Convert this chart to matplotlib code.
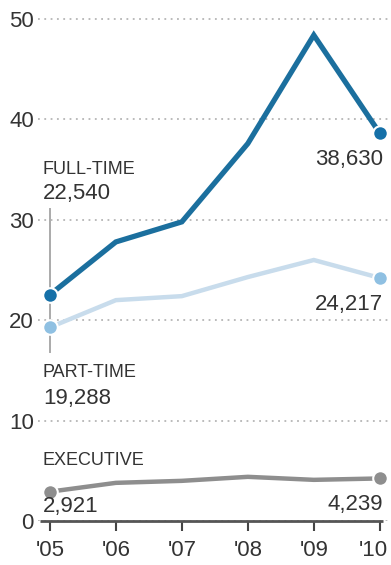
import matplotlib
matplotlib.use("Agg")
import matplotlib.pyplot as plt
from matplotlib.transforms import ScaledTranslation

plt.rcParams['font.family'] = ['Liberation Sans', 'DejaVu Sans']

# Employment counts, in thousands
years = ["'05", "'06", "'07", "'08", "'09", "'10"]
full_time = [22.540, 27.8, 29.8, 37.6, 48.4, 38.630]
part_time = [19.288, 22.0, 22.4, 24.3, 26.0, 24.217]
executive = [2.921, 3.8, 4.0, 4.4, 4.1, 4.239]

names = ['FULL-TIME', 'PART-TIME', 'EXECUTIVE']
start_labels = ['22,540', '19,288', '2,921']
end_labels = ['38,630', '24,217', '4,239']

line_colors = ['#1b6f9e', '#c8dcec', '#8e8e8e']
dot_colors = ['#1570a8', '#8fc0e2', '#8e8e8e']
line_widths = [3.8, 3.2, 3.2]

text_col = '#333333'

fig = plt.figure(figsize=(3.91, 5.65), dpi=100)
ax = fig.add_axes([38 / 391, 44 / 565, 353 / 391, 521 / 565])

x = list(range(len(years)))
series = [full_time, part_time, executive]

# connector from the full-time label down past the part-time dot
ax.plot([0, 0], [31.1, 16.8], color='#aaaaaa', lw=1.4, zorder=1)

for vals, lc, dc, lw in zip(series, line_colors, dot_colors, line_widths):
    ax.plot(x, vals, color=lc, lw=lw, solid_capstyle='butt',
            solid_joinstyle='miter', zorder=2)
    ax.plot([x[0], x[-1]], [vals[0], vals[-1]], 'o', color=dc, ms=10.5,
            mec='white', mew=1.5, zorder=3)

fs = 16
fs_name = 13
lx = -0.106
rx = 5.045
# series names and first values, left side
ax.text(lx, 34.6, names[0], fontsize=fs_name, color=text_col, va='baseline')
ax.text(lx, 32.1, start_labels[0], fontsize=fs, color=text_col, va='baseline')
ax.text(lx, 14.3, names[1], fontsize=fs_name, color=text_col, va='baseline')
ax.text(lx, 11.7, start_labels[1], fontsize=fs, color=text_col, va='baseline')
ax.text(lx, 5.6, names[2], fontsize=fs_name, color=text_col, va='baseline')
ax.text(lx, 0.9, start_labels[2], fontsize=fs, color=text_col, va='baseline')

# last values, right side
ax.text(rx, 35.5, end_labels[0], fontsize=fs, color=text_col,
        ha='right', va='baseline')
ax.text(rx, 21.0, end_labels[1], fontsize=fs, color=text_col,
        ha='right', va='baseline')
ax.text(rx, 1.1, end_labels[2], fontsize=fs, color=text_col,
        ha='right', va='baseline')

ax.set_xlim(-0.18, 5.17)
ax.set_ylim(0, 51.9)

ax.set_yticks([0, 10, 20, 30, 40, 50])
ax.set_yticklabels(['0', '10', '20', '30', '40', '50'])
ax.tick_params(axis='y', length=0, pad=3, labelsize=fs, labelcolor=text_col)
ax.grid(axis='y', color='#b5b5b5', linestyle=(0, (1, 2.5)), lw=1.3)

ax.set_xticks(x)
ax.set_xticklabels(years)
ax.tick_params(axis='x', length=7, width=1.5, color='#444444', pad=7,
               labelsize=fs, labelcolor=text_col)
# nudge the last year label so it stays inside the figure
last = ax.get_xticklabels()[-1]
last.set_transform(last.get_transform()
                   + ScaledTranslation(-5 / 72, 0, fig.dpi_scale_trans))

for side in ['top', 'right', 'left', 'bottom']:
    ax.spines[side].set_visible(False)
ax.hlines(0, -0.15, 5.05, color='#555555', lw=2, zorder=4, clip_on=False)
ax.set_facecolor('white')

fig.savefig('out.png', dpi=100, facecolor='white')
